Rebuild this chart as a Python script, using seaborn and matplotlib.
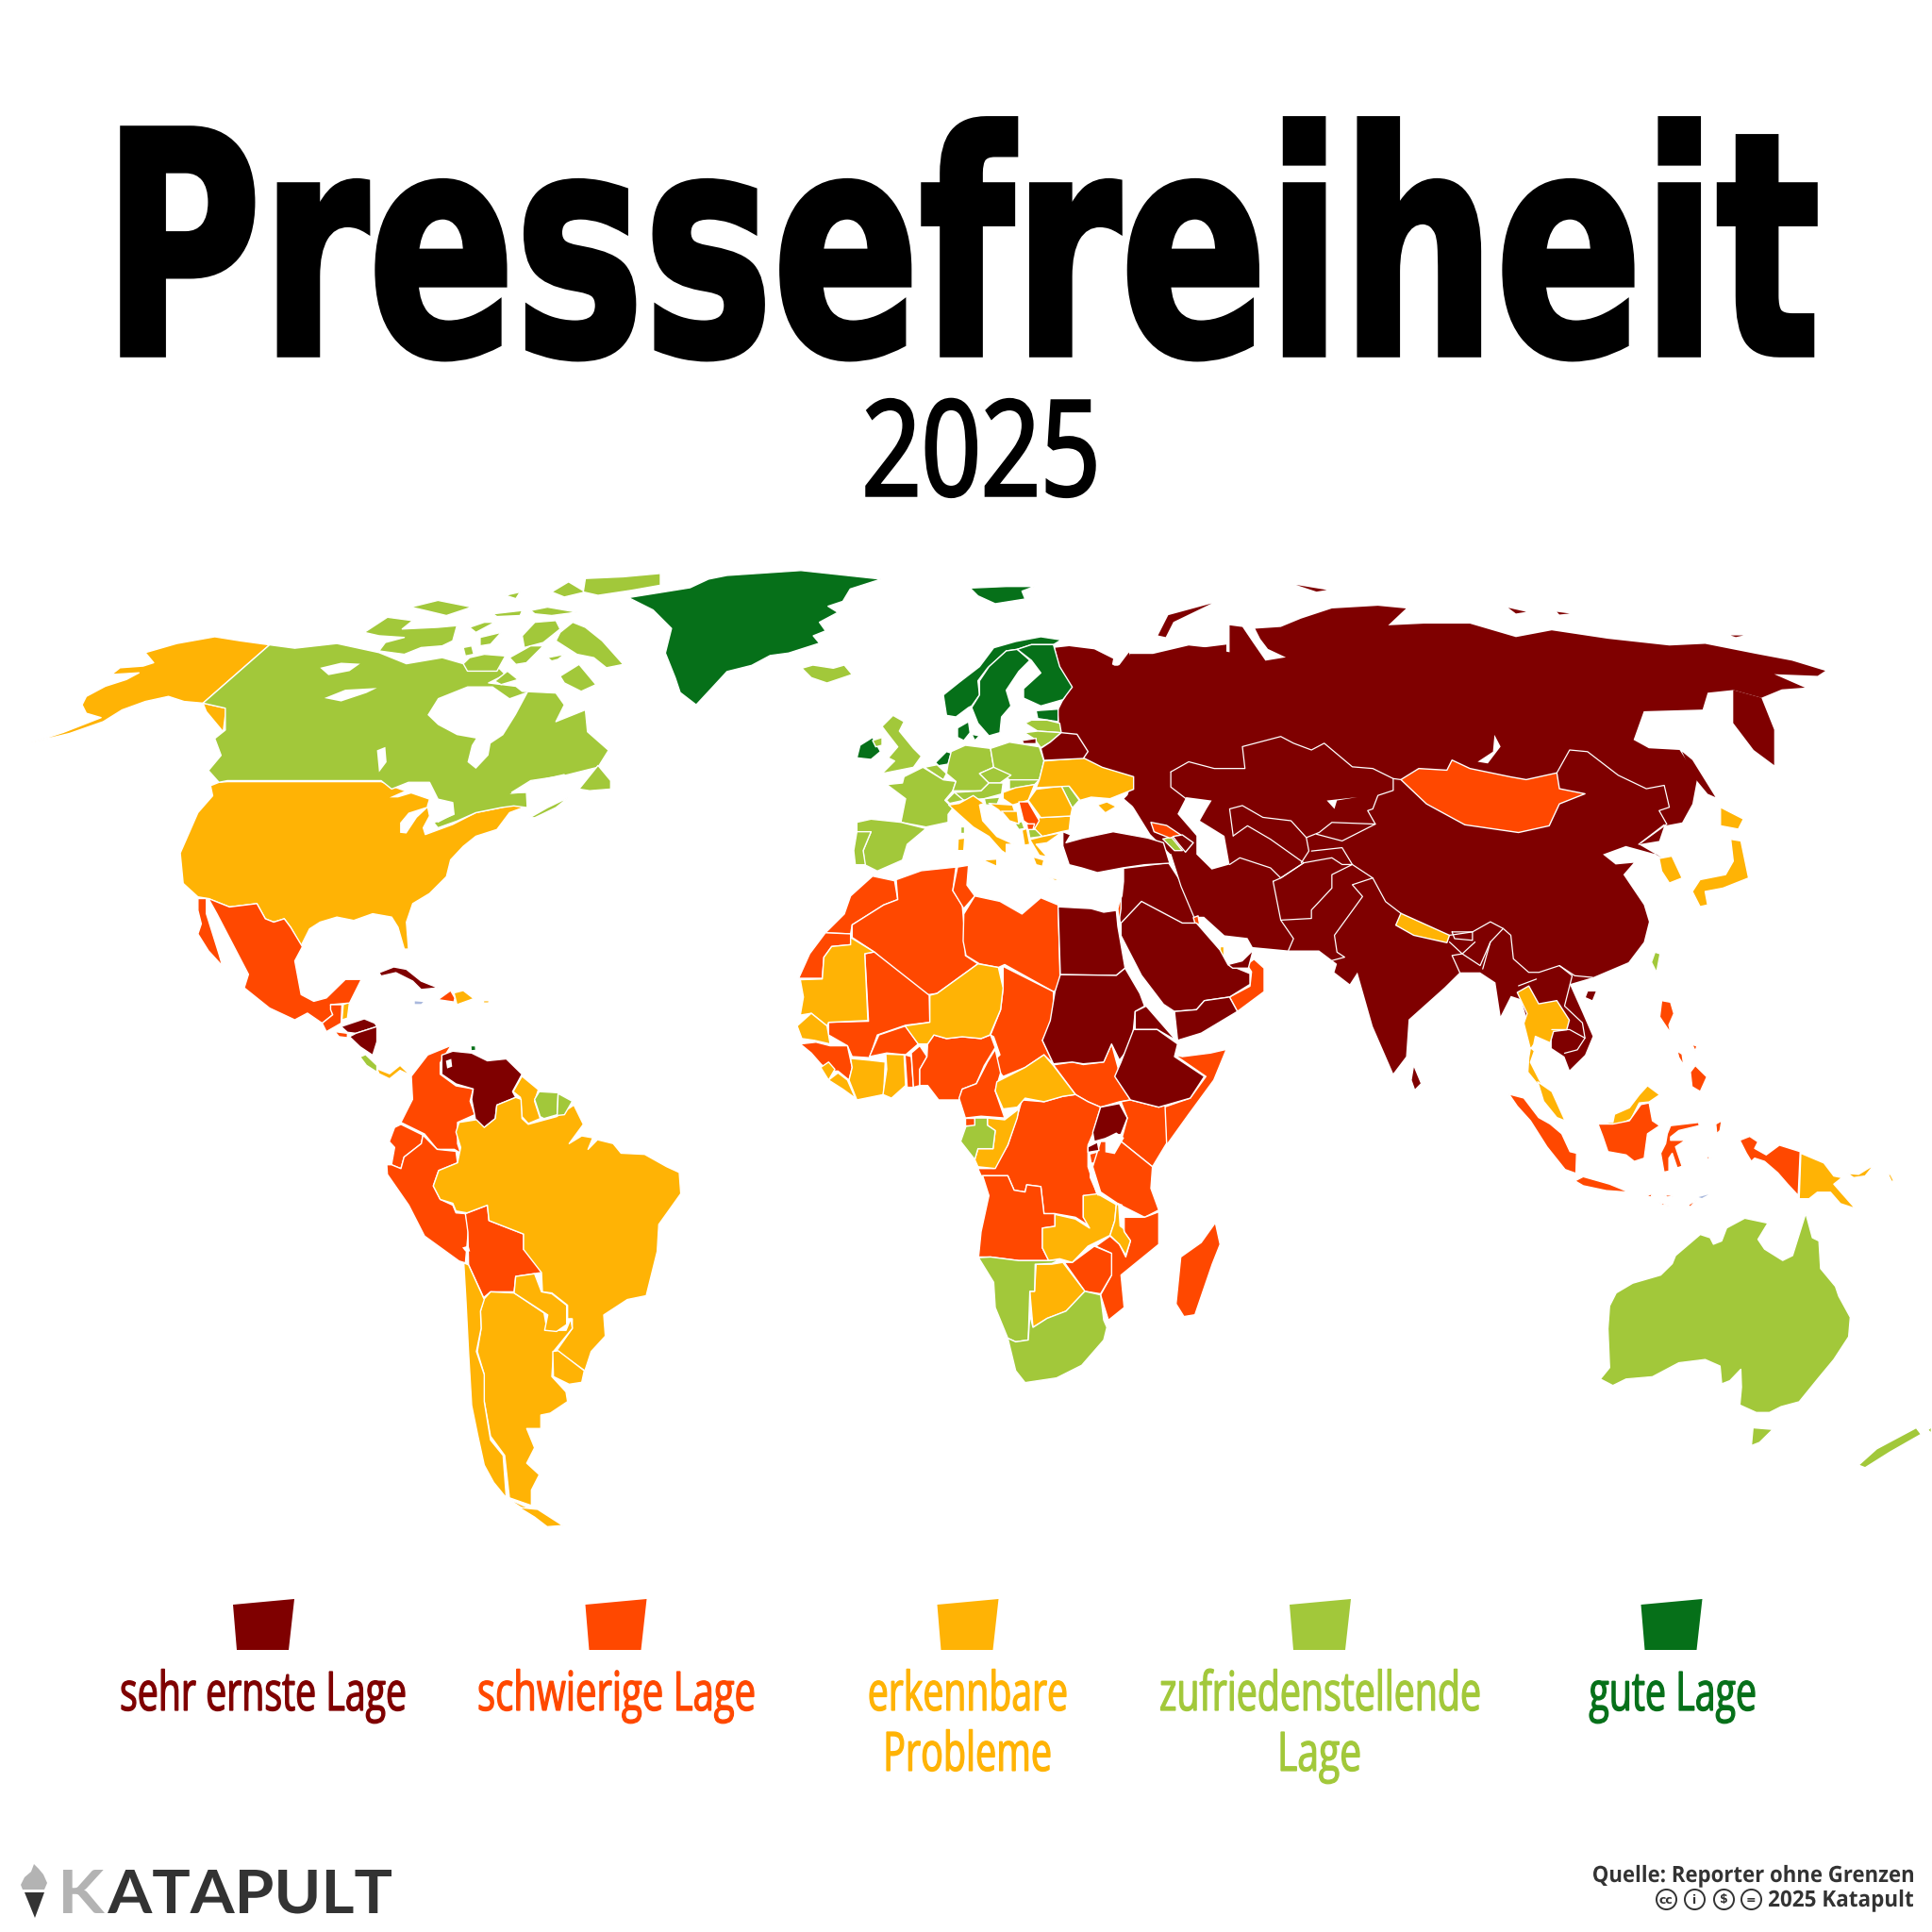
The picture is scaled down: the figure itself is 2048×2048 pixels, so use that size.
import numpy as np
import pandas as pd
import matplotlib
matplotlib.use("Agg")
import matplotlib.pyplot as plt
import matplotlib.patheffects as pe
from matplotlib.font_manager import FontProperties
from matplotlib.path import Path
from matplotlib.textpath import TextPath
from matplotlib.transforms import Affine2D
import seaborn as sns

LEVELS = ["sehr ernste Lage", "schwierige Lage", "erkennbare\nProbleme", "zufriedenstellende\nLage", "gute Lage"]
LEVEL_COLORS = ["#7f0000", "#ff4800", "#ffb305", "#a2c83a", "#067019"]
NO_DATA = "#a9b8dd"
VERY_BAD, BAD, PROBLEMS, OK, GOOD = 0, 1, 2, 3, 4

# outlines, each group in its own crop of the picture
# crop = (left, top, x scale, y scale)
CROP_ALL = (0, 0, 0.7656, 0.7656)
CROP_NA = (0, 590, 2.24, 2.8)
CROP_SA = (350, 1000, 3.0, 2.45)
CROP_EU = (840, 600, 3.0, 3.0)
CROP_AF = (820, 900, 3.0, 2.613)
CROP_AS = (1130, 620, 1.845, 2.8)
CROP_OC = (1500, 1040, 2.861, 2.904)

GREENLAND = [(510,485),(535,481),(560,477),(575,470),(590,467),(650,463),(715,470),(690,478),(684,488),(672,492),(680,497),(665,505),(670,512),(660,516),(665,522),(640,530),(625,532),(610,540),(590,545),(578,558),(565,572),(552,562),(548,550),(540,530),(545,510),(530,495)]

ALASKA = [(640,262),(482,435),(437,430),(400,415),(345,430),(290,455),(245,490),(165,525),(75,552),(150,522),(240,478),(205,465),(195,440),(205,415),(250,385),(300,365),(330,345),(265,350),(285,330),(340,325),(365,315),(345,285),(420,258),(510,238),(570,250)]
ALASKA_PAN = [(482,435),(537,450),(530,520),(510,490),(490,460)]
CANADA = [(640,262),(700,272),(800,258),(900,285),(965,318),(1050,300),(1100,318),(1180,325),(1200,350),(1160,375),(1225,385),(1240,400),(1320,405),(1340,440),(1320,490),(1390,455),(1395,520),(1445,575),(1420,625),(1340,650),(1260,665),(1215,700),(1250,700),(1252,745),(1220,740),(1190,745),(1130,760),(1085,785),(1040,805),(1030,790),(1078,765),(1075,730),(1040,720),(1020,670),(970,670),(930,690),(905,665),(540,665),(520,670),(495,635),(525,590),(510,540),(535,515),(535,450),(482,435)]
NEWFOUNDLAND = [(1375,690),(1420,620),(1450,665),(1450,690),(1400,695)]
NOVA_SCOTIA = [(1258,775),(1300,745),(1350,715),(1320,745),(1270,775)]
ARCTIC_1 = [(865,225),(920,180),(980,190),(955,215),(1040,210),(1085,205),(1075,250),(1050,265),(1000,270),(960,290),(900,280),(915,255),(960,240),(900,235)]
ARCTIC_2 = [(1115,210),(1150,195),(1175,195),(1130,225)]
ARCTIC_3 = [(1100,270),(1120,265),(1125,290),(1105,295)]
ARCTIC_4 = [(1140,240),(1190,225),(1165,260),(1140,265)]
BAFFIN_1 = [(1330,225),(1360,195),(1390,210),(1430,250),(1480,320),(1440,330),(1410,300),(1370,290),(1320,250)]
BAFFIN_2 = [(1240,235),(1270,195),(1320,190),(1330,215),(1290,255),(1245,270)]
BAFFIN_3 = [(1210,300),(1260,265),(1290,265),(1250,315),(1225,320)]
BAFFIN_4 = [(1115,300),(1150,290),(1200,295),(1180,340),(1110,340),(1100,318)]
BAFFIN_5 = [(1300,300),(1340,290),(1325,305),(1310,310)]
ARCTIC_5 = [(1175,370),(1205,340),(1230,365),(1190,380)]
ARCTIC_6 = [(1330,355),(1375,320),(1415,380),(1380,400),(1340,375)]
ARCTIC_7 = [(975,150),(1040,130),(1120,150),(1060,175),(1010,160)]
ARCTIC_8 = [(1260,160),(1300,150),(1370,165),(1310,175),(1270,170)]
ARCTIC_9 = [(1310,105),(1350,75),(1390,105),(1340,120)]
ELLESMERE = [(1390,65),(1480,60),(1568,50),(1568,85),(1500,100),(1420,115),(1385,105)]
ARCTIC_10 = [(1200,115),(1235,105),(1225,125)]
ARCTIC_11 = [(1170,170),(1240,160),(1235,175),(1180,178)]
USA = [(540,668),(905,668),(950,690),(1020,720),(1015,740),(1020,770),(1005,805),(1010,825),(1075,795),(1130,760),(1190,745),(1220,735),(1248,698),(1252,740),(1210,760),(1180,810),(1130,830),(1100,860),(1085,880),(1070,900),(1060,950),(1020,1000),(980,1030),(965,1085),(970,1165),(960,1165),(945,1100),(930,1070),(885,1060),(840,1080),(800,1070),(760,1085),(735,1105),(715,1155),(690,1100),(675,1075),(650,1085),(630,1075),(610,1030),(545,1040),(495,1015),(470,1010),(435,970),(428,880),(470,760),(505,710),(500,680),(520,670)]
MEXICO = [(495,1015),(545,1040),(610,1030),(630,1075),(650,1085),(675,1075),(690,1100),(718,1158),(700,1200),(715,1300),(745,1320),(775,1310),(820,1255),(858,1255),(830,1325),(785,1330),(790,1360),(765,1385),(730,1355),(700,1375),(640,1340),(580,1280),(590,1240),(515,1060)]
BAJA = [(470,1015),(490,1015),(490,1060),(520,1180),(528,1215),(495,1170),(470,1120),(478,1090),(470,1050)]
BELIZE = [(815,1330),(830,1322),(825,1370),(812,1375)]
GUATEMALA = [(785,1330),(812,1330),(810,1385),(775,1410),(765,1385),(790,1360),(785,1345)]
EL_SALVADOR = [(795,1410),(825,1415),(825,1428),(805,1425)]
HONDURAS = [(810,1395),(865,1372),(890,1385),(895,1395),(845,1415),(825,1412)]
NICARAGUA = [(845,1415),(895,1395),(895,1440),(885,1480),(855,1455),(830,1425)]
COSTA_RICA = [(855,1485),(868,1478),(895,1510),(895,1530),(870,1510)]
PANAMA = [(895,1520),(925,1535),(950,1510),(975,1540),(950,1525),(925,1550),(900,1535)]
CUBA = [(900,1235),(935,1218),(965,1225),(1000,1260),(1040,1280),(1000,1285),(980,1260),(940,1235),(905,1245)]
HAITI = [(1040,1315),(1070,1288),(1080,1310),(1078,1322)]
DOMINICAN = [(1078,1295),(1100,1288),(1125,1312),(1085,1330)]
PUERTO_RICO = [(1148,1318),(1162,1318),(1160,1325),(1148,1325)]
JAMAICA = [(985,1320),(1005,1322),(1000,1328),(985,1328)]
HUDSON = [(1015,470),(1040,420),(1110,385),(1170,385),(1210,420),(1255,400),(1225,470),(1195,530),(1165,555),(1160,590),(1130,630),(1110,610),(1120,560),(1130,540),(1085,530),(1040,500)]
GREAT_BEAR = [(760,330),(810,315),(855,318),(830,340),(780,352)]
GREAT_SLAVE = [(770,420),(820,395),(895,390),(870,405),(810,430)]
WINNIPEG = [(895,575),(915,565),(918,610),(900,640)]
SUPERIOR = [(925,715),(970,690),(1020,670),(1030,720),(985,700),(945,715)]
MICHIGAN = [(950,820),(950,790),(970,760),(1020,740),(990,775),(965,822)]
HURON = [(1030,730),(1075,730),(1078,765),(1040,790),(1025,775)]
ST_LAWRENCE = [(1210,705),(1270,665),(1340,645),(1350,660),(1300,690),(1255,700)]

COLOMBIA = [(385,265),(350,310),(350,340),(400,370),(455,378),(445,410),(460,445),(405,465),(405,520),(415,545),(395,535),(340,535),(300,495),(225,465),(262,405),(258,345),(310,290)]
VENEZUELA = [(355,290),(390,280),(450,285),(500,305),(560,300),(610,340),(580,385),(590,400),(530,420),(525,455),(490,478),(465,470),(450,405),(455,378),(400,365),(355,340)]
GUYANA = [(610,345),(662,380),(650,410),(668,455),(630,468),(610,450),(605,400),(582,385)]
SURINAME = [(650,405),(665,385),(725,388),(722,445),(680,455),(668,450)]
FR_GUIANA = [(725,390),(770,410),(745,445),(722,447)]
BRAZIL = [(530,420),(590,400),(607,405),(610,455),(630,470),(720,450),(775,420),(805,470),(760,520),(800,500),(835,505),(820,535),(850,510),(900,520),(925,545),(1000,548),(1070,580),(1110,595),(1115,650),(1045,730),(1040,800),(1005,915),(945,925),(870,965),(875,1020),(830,1060),(810,1110),(720,1058),(770,1000),(770,975),(755,975),(755,940),(705,908),(675,905),(672,855),(615,795),(615,755),(505,720),(500,680),(435,700),(400,695),(390,675),(350,665),(328,630),(345,590),(405,570),(415,530),(400,490),(410,465),(465,458),(490,478),(525,455)]
ECUADOR = [(225,470),(295,498),(290,520),(235,555),(225,585),(195,575),(205,530),(188,515),(205,478)]
PERU = [(295,498),(340,535),(400,540),(405,570),(345,590),(328,630),(350,665),(390,680),(400,700),(430,702),(440,740),(430,830),(410,825),(300,760),(250,680),(182,600),(180,575),(195,575),(225,585),(235,555),(290,520)]
BOLIVIA = [(430,702),(500,680),(505,720),(615,755),(615,795),(660,800),(672,855),(590,865),(585,905),(550,905),(510,905),(488,920),(440,835),(438,750)]
CHILE = [(425,830),(440,835),(490,925),(478,955),(480,1000),(465,1060),(490,1120),(490,1190),(510,1290),(550,1330),(560,1440),(640,1470),(620,1472),(560,1440),(520,1400),(490,1355),(470,1280),(450,1200),(440,1060),(432,930)]
ARGENTINA = [(488,925),(510,905),(585,908),(680,960),(690,1005),(750,1005),(765,975),(770,1000),(710,1060),(705,1125),(750,1165),(755,1190),(700,1220),(670,1225),(670,1260),(625,1260),(650,1310),(625,1350),(665,1380),(640,1420),(640,1460),(570,1440),(555,1330),(510,1280),(490,1190),(490,1120),(468,1060),(480,1000),(478,955)]
TIERRA = [(600,1465),(660,1470),(740,1512),(690,1515),(650,1490)]
PARAGUAY = [(590,865),(650,858),(672,905),(705,910),(752,940),(752,990),(720,1008),(682,1005),(692,965),(585,908)]
URUGUAY = [(708,1060),(725,1058),(808,1110),(800,1140),(760,1145),(710,1125)]
TRINIDAD = [(447,266),(462,266),(463,278),(448,279)]
TITICACA = [(420,790),(440,785),(445,800),(430,800)]
MARACAIBO = [(368,305),(385,300),(388,320),(372,325)]

MOROCCO = [(315,75),(385,88),(395,140),(350,155),(250,210),(245,235),(165,232),(225,180),(245,130)]
W_SAHARA = [(165,232),(245,235),(245,265),(185,270),(160,300),(155,358),(80,358),(115,290)]
ALGERIA = [(390,85),(470,60),(580,50),(570,115),(600,155),(610,255),(610,295),(650,318),(520,400),(480,405),(320,285),(250,245),(250,210),(350,155),(395,140)]
TUNISIA = [(585,50),(620,45),(615,100),(640,130),(605,165),(570,115)]
LIBYA = [(605,180),(640,130),(720,145),(790,180),(850,135),(905,155),(912,385),(890,395),(735,320),(715,328),(655,318),(612,295),(603,255)]
EGYPT = [(905,160),(1010,165),(1050,175),(1090,170),(1095,215),(1118,330),(1090,350),(912,348)]
MAURITANIA = [(245,245),(320,285),(290,290),(300,475),(175,480),(170,490),(120,455),(85,460),(95,410),(85,362),(155,360),(160,300),(185,270),(245,265)]
MALI = [(290,290),(320,285),(495,405),(497,480),(420,488),(330,515),(305,578),(250,575),(235,545),(175,515),(175,480),(302,477)]
SENEGAL = [(75,490),(120,455),(170,490),(180,540),(130,530),(90,525)]
GUINEA = [(85,540),(135,535),(180,545),(235,545),(250,605),(240,640),(205,615),(175,615),(150,595),(120,565)]
SIERRA_LEONE = [(150,605),(175,590),(195,610),(175,640)]
LIBERIA = [(175,640),(205,620),(235,640),(260,690),(220,665)]
IVORY_COAST = [(245,580),(305,585),(355,590),(350,680),(265,695),(240,640),(250,605)]
BURKINA = [(305,575),(335,515),(420,490),(460,540),(420,570),(360,565)]
GHANA = [(357,568),(415,570),(420,655),(375,690),(348,680),(360,610)]
TOGO = [(418,570),(438,575),(445,660),(425,660)]
BENIN = [(438,565),(465,545),(488,575),(465,610),(465,655),(445,660)]
NIGER = [(418,490),(497,480),(497,405),(520,400),(650,318),(715,328),(730,385),(722,445),(688,515),(660,525),(600,520),(550,525),(510,515),(490,540),(460,540)]
NIGERIA = [(490,540),(510,515),(550,525),(600,520),(660,525),(690,515),(705,550),(670,600),(645,650),(600,665),(590,695),(525,695),(490,655),(465,655),(465,610),(488,575)]
CHAD = [(730,325),(890,395),(890,470),(855,530),(890,595),(860,570),(800,605),(730,630),(695,590),(720,570),(700,520),(690,515),(722,445),(730,385)]
CAMEROON = [(705,555),(722,620),(705,670),(735,745),(660,740),(610,745),(590,690),(600,665),(645,650),(680,590)]
CAR = [(710,645),(800,605),(860,570),(890,600),(960,680),(920,685),(860,700),(800,690),(775,715),(730,720),(705,670)]
SUDAN = [(912,348),(1090,350),(1118,330),(1165,400),(1180,435),(1150,450),(1140,540),(1100,585),(1075,540),(1050,590),(985,595),(950,590),(890,595),(855,530),(880,475),(895,395)]
SOUTH_SUDAN = [(890,598),(950,590),(985,597),(1050,590),(1075,540),(1100,620),(1090,635),(1135,695),(1100,700),(1040,715),(1000,700),(960,680)]
ERITREA = [(1150,450),(1185,435),(1280,530),(1220,500),(1150,500)]
ETHIOPIA = [(1145,500),(1220,500),(1285,540),(1275,575),(1370,630),(1325,690),(1225,715),(1135,695),(1085,630),(1105,590)]
SOMALIA = [(1275,570),(1300,575),(1390,565),(1440,555),(1400,640),(1320,735),(1250,820),(1242,715),(1325,690),(1375,630)]
KENYA = [(1135,695),(1225,715),(1245,710),(1250,815),(1205,880),(1105,810),(1125,745),(1105,700)]
UGANDA = [(1040,715),(1100,705),(1125,745),(1105,790),(1020,810),(1015,785)]
RWANDA = [(1000,825),(1030,812),(1035,835),(1000,840)]
BURUNDI = [(1005,845),(1035,838),(1025,870),(1010,870)]
TANZANIA = [(1040,810),(1105,810),(1205,880),(1200,940),(1225,1000),(1180,1020),(1100,985),(1040,950),(1015,880)]
DR_CONGO = [(790,695),(860,700),(920,685),(960,680),(1000,700),(1040,715),(1015,790),(1000,820),(1000,880),(1030,960),(985,960),(985,1020),(1015,1050),(960,1020),(895,1010),(860,1010),(850,935),(805,930),(800,950),(765,945),(745,905),(660,905),(650,885),(700,885),(745,820),(775,740)]
ANGOLA = [(665,905),(745,905),(765,945),(800,950),(805,930),(850,935),(860,1010),(895,1010),(895,1045),(855,1050),(855,1105),(875,1140),(780,1140),(690,1130),(652,1130),(660,1060),(685,960)]
EQ_GUINEA = [(610,745),(640,745),(640,765),(608,765)]
GABON = [(640,745),(680,745),(680,765),(705,780),(698,830),(650,830),(640,860),(595,810),(612,768),(640,765)]
CONGO = [(680,745),(735,750),(780,720),(775,745),(745,820),(705,885),(650,880),(640,860),(650,830),(698,830),(705,780),(680,765)]
ZAMBIA = [(855,1050),(895,1045),(895,1012),(960,1025),(1005,1050),(985,1020),(985,960),(1030,955),(1090,985),(1085,1030),(1070,1070),(1000,1100),(950,1145),(910,1135),(875,1140),(855,1105)]
MALAWI = [(1090,985),(1100,985),(1115,1060),(1135,1085),(1120,1125),(1100,1095),(1070,1070),(1085,1030)]
MOZAMBIQUE = [(1115,1020),(1180,1020),(1225,1005),(1225,1095),(1105,1180),(1115,1270),(1065,1305),(1040,1235),(1075,1180),(1075,1120),(1025,1100),(1070,1072),(1100,1095),(1120,1130),(1135,1085),(1115,1060)]
ZIMBABWE = [(925,1145),(950,1145),(1020,1100),(1075,1120),(1075,1180),(1040,1232),(990,1225)]
BOTSWANA = [(835,1150),(885,1150),(920,1145),(990,1225),(930,1280),(870,1300),(825,1325),(815,1225),(830,1225)]
NAMIBIA = [(652,1132),(690,1130),(780,1140),(875,1140),(910,1138),(885,1148),(832,1150),(830,1225),(815,1225),(810,1360),(770,1365),(745,1355),(705,1270),(700,1200)]
SOUTH_AFRICA = [(745,1355),(770,1365),(810,1360),(815,1290),(825,1325),(870,1300),(930,1280),(990,1225),(1040,1235),(1050,1305),(1060,1325),(1050,1360),(980,1430),(900,1465),(800,1478),(770,1445)]
LESOTHO = [(948,1380),(975,1360),(992,1378),(965,1400)]
ESWATINI = [(1025,1318),(1042,1305),(1050,1320),(1035,1332)]
MADAGASCAR = [(1405,1035),(1420,1095),(1395,1150),(1340,1290),(1305,1295),(1280,1260),(1295,1130),(1360,1090)]
VICTORIA = [(1055,800),(1090,785),(1115,800),(1085,845),(1055,840)]
TANGANYIKA = [(1005,870),(1015,900),(1045,960),(1030,960),(1005,910)]
LAKE_MALAWI = [(1095,980),(1110,985),(1115,1055),(1100,1045)]
MIDEAST = [(1115,55),(1255,40),(1300,100),(1350,170),(1345,205),(1300,205),(1170,145),(1105,205),(1095,160),(1110,130),(1115,90)]
SAUDI = [(1105,205),(1170,145),(1300,205),(1345,205),(1420,280),(1445,320),(1515,345),(1515,375),(1450,410),(1370,420),(1345,445),(1275,450),(1240,430),(1170,350),(1105,240)]
YEMEN = [(1275,450),(1345,445),(1370,420),(1450,410),(1475,450),(1360,510),(1285,530)]
OMAN = [(1450,410),(1515,380),(1520,340),(1505,320),(1528,305),(1560,330),(1560,395),(1475,450)]
UAE = [(1445,320),(1490,310),(1525,280),(1510,330),(1460,330)]
KUWAIT = [(1335,190),(1350,185),(1355,210),(1340,205)]
ISRAEL = [(1095,165),(1105,130),(1105,165),(1098,205)]
QATAR = [(1418,270),(1430,270),(1430,295),(1420,295)]

EURASIA = [(0,185),(50,205),(95,240),(120,240),(125,205),(170,205),(240,180),(270,185),(320,200),(320,120),(345,125),(365,170),(390,225),(430,215),(395,190),(380,160),(370,130),(420,125),(460,100),(520,70),(610,62),(665,70),(630,120),(700,115),(790,115),(880,155),(950,135),(1060,160),(1180,180),(1250,175),(1350,205),(1420,225),(1485,255),(1470,270),(1385,265),(1445,305),(1400,310),(1360,335),(1305,312),(1255,320),(1245,370),(1130,375),(1110,460),(1140,485),(1200,490),(1235,570),(1225,650),(1205,705),(1170,715),(1160,760),(1120,770),(1165,810),(1155,800),(1095,775),(1050,800),(1075,830),(1110,825),(1090,860),(1130,950),(1140,1000),(1130,1060),(1100,1120),(1030,1165),(985,1185),(1010,1270),(1030,1340),(1015,1395),(985,1440),(975,1400),(950,1375),(950,1330),(910,1330),(890,1230),(870,1220),(850,1280),(840,1180),(810,1150),(770,1150),(740,1195),(670,1290),(665,1400),(640,1450),(600,1310),(570,1150),(555,1185),(525,1150),(530,1125),(495,1085),(435,1085),(365,1075),(355,1048),(310,1040),(270,985),(250,985),(225,895),(205,800),(165,740),(120,630),(130,570),(40,490),(0,440)]
RUSSIA_WEST = [(835,260),(880,255),(960,265),(1020,295),(1015,320),(960,320),(890,300),(940,355),(975,350),(1040,315),(1070,275),(1085,320),(1120,300),(1200,270),(1300,260),(1380,250),(1380,700),(1230,760),(1140,815),(1090,770),(1055,740),(1085,710),(1085,670),(985,640),(925,610),(940,590),(900,535),(850,530),(845,460),(860,430),(890,385),(850,320)]
KAMCHATKA = [(1305,312),(1360,335),(1385,430),(1385,535),(1345,490),(1305,410)]
SAKHALIN = [(1205,495),(1225,520),(1270,630),(1255,620),(1225,565)]
NOVAYA = [(180,150),(200,90),(285,55),(210,110),(195,155)]
SEVERNAYA = [(450,0),(510,15),(490,20)]
NEW_SIBERIA = [(865,68),(900,80),(880,85)]
NEW_SIBERIA_2 = [(960,80),(985,85),(965,88)]
WRANGEL = [(1300,150),(1325,150),(1310,155)]
TURKEY = [(860,845),(885,855),(870,880),(925,865),(1020,845),(1130,865),(1180,880),(1200,945),(1120,950),(1050,960),(970,975),(920,960),(880,950),(860,890)]
CASPIAN = [(218,680),(235,630),(285,640),(275,665),(262,700),(310,745),(320,830),(285,845),(255,800),(255,745)]
BAIKAL = [(838,445),(850,480),(825,530),(805,525),(835,495)]
BALKHASH = [(510,640),(570,630),(530,640),(525,665)]
MONGOLIA = [(655,578),(690,545),(745,550),(755,520),(790,545),(870,570),(900,578),(960,558),(965,605),(1015,620),(965,650),(945,715),(885,735),(780,712),(705,650)]
S_KOREA = [(1160,812),(1185,805),(1205,870),(1180,885),(1165,850)]
HONSHU = [(1300,755),(1320,760),(1335,870),(1285,900),(1250,910),(1255,950),(1240,955),(1225,910),(1240,875),(1290,860),(1305,820)]
HOKKAIDO = [(1280,660),(1325,695),(1315,725),(1280,715)]
TAIWAN = [(1152,1090),(1162,1095),(1155,1150),(1145,1120)]
SRI_LANKA = [(680,1425),(695,1480),(682,1500),(675,1470)]
HAINAN = [(1020,1205),(1038,1205),(1030,1235),(1015,1225)]
NEPAL = [(655,975),(750,1040),(745,1062),(680,1040),(645,1010)]

# white border lines over the dark block of Asia
LINE_KAZ_N = [(205,555),(240,525),(290,545),(350,545),(345,480),(420,450),(445,470),(480,490),(505,470),(560,540),(600,545),(640,575),(655,578)]
LINE_KAZ_S = [(640,575),(640,610),(610,625),(600,665),(590,670),(605,710),(520,705),(495,735),(470,750),(440,700),(385,690),(345,655),(320,665),(327,745)]
LINE_KAZ_W = [(205,555),(205,600),(235,635)]
LINE_TURKMEN = [(327,745),(355,715),(400,755),(465,825),(420,870),(400,840),(340,810),(320,830)]
LINE_UZBEK = [(470,750),(475,790),(460,825)]
LINE_KYRGYZ = [(490,740),(540,760),(605,710)]
LINE_TAJIK = [(480,790),(540,780),(560,830)]
LINE_AFGHAN = [(405,880),(420,870),(465,825),(520,810),(540,830),(560,830),(520,860),(520,900),(480,965),(480,990),(420,995),(405,880)]
LINE_PAK_INDIA = [(560,830),(600,870),(560,890),(580,925),(525,1040),(530,1090),(545,1105),(520,1115)]
LINE_PAK_IRAN = [(420,995),(445,1050),(435,1085)]
LINE_CHINA_INDIA = [(600,870),(625,940),(655,975)]
LINE_BHUTAN = [(755,1030),(795,1030),(795,1055),(760,1050),(755,1030)]
LINE_CHINA_SOUTH = [(750,1040),(795,1030),(830,1000),(855,1020),(870,1040),(875,1110),(905,1150),(925,1150),(965,1130),(995,1160),(1030,1165)]
LINE_BANGLA_W = [(750,1060),(775,1095),(755,1100),(770,1150)]
LINE_BANGLA_E = [(800,1060),(775,1095),(810,1130),(830,1060)]
LINE_MYANMAR = [(855,1020),(830,1060),(815,1140)]
LINE_LAOS = [(920,1170),(885,1190)]
LINE_VIETNAM = [(965,1130),(990,1160),(975,1250),(1010,1300),(1015,1345)]
LINE_CAMBODIA = [(950,1320),(985,1320),(1015,1345),(1000,1380),(975,1390)]
LINE_AMUR = [(960,558),(985,490),(1020,495),(1080,565),(1135,605),(1170,595),(1180,660),(1160,670),(1175,710),(1125,765)]
LINE_KOREA = [(1120,770),(1170,712)]
LINE_IRAN_TURKEY = [(205,800),(225,895),(250,985)]

THAILAND = [(310,35),(345,15),(375,70),(430,60),(468,120),(460,150),(420,155),(410,190),(365,170),(360,195),(350,210),(330,130),(340,100)]
THAI_SOUTH = [(350,205),(362,215),(350,250),(385,320),(370,315),(342,280),(345,235)]
MALAY = [(372,310),(415,340),(455,430),(430,420),(390,370)]
SUMATRA = [(285,348),(330,360),(375,420),(410,440),(445,470),(470,525),(490,530),(488,592),(455,580),(400,510),(350,430),(310,385)]
JAVA = [(485,615),(510,602),(590,625),(650,650),(580,645),(510,630)]
SUNDA_1 = [(700,660),(720,655),(715,665)]
SUNDA_2 = [(755,658),(795,660),(765,665)]
SUNDA_3 = [(740,680),(770,692),(750,690)]
SUNDA_4 = [(828,690),(855,672),(835,695)]
TIMOR_LESTE = [(860,665),(890,657),(870,668)]
KALIMANTAN = [(555,440),(600,440),(650,430),(685,380),(710,375),(720,430),(742,445),(705,470),(695,545),(665,555),(640,535),(585,525),(570,480)]
SARAWAK = [(565,435),(600,435),(605,410),(650,390),(680,350),(705,322),(742,350),(710,372),(680,375),(655,425),(610,445)]
SULAWESI = [(765,470),(775,445),(860,435),(862,445),(800,460),(775,480),(775,490),(820,490),(790,510),(810,570),(795,575),(780,530),(770,545),(770,585),(755,588),(745,530),(760,500)]
LUZON = [(748,60),(775,65),(785,100),(770,135),(775,160),(755,130),(742,110)]
MINDANAO = [(850,260),(885,295),(865,340),(840,325),(835,280)]
VISAYAS_1 = [(795,215),(810,225),(815,260),(800,235)]
VISAYAS_2 = [(840,195),(855,200),(850,215)]
PALAWAN = [(710,275),(745,235),(730,255)]
ZAMBOANGA = [(800,315),(830,285),(815,300)]
PAPUA = [(985,490),(1015,478),(1040,495),(1030,515),(1065,535),(1105,505),(1168,525),(1162,660),(1130,625),(1100,590),(1060,555),(1030,545),(1020,555),(1005,530)]
PNG = [(1170,530),(1240,560),(1270,600),(1295,605),(1270,625),(1335,700),(1290,685),(1260,650),(1220,650),(1195,670),(1165,670)]
NEW_BRITAIN = [(1312,592),(1345,595),(1385,570),(1395,562),(1365,600),(1330,605)]
SOLOMON = [(1435,595),(1442,595),(1452,615),(1445,617)]
SERAM = [(925,535),(970,545),(945,540)]
BURU = [(885,540),(900,542),(885,548)]
HALMAHERA = [(912,440),(930,430),(925,460),(915,470)]
AUSTRALIA = [(1185,715),(1205,790),(1225,800),(1230,885),(1275,940),(1285,970),(1320,1035),(1315,1095),(1270,1165),(1225,1220),(1165,1295),(1110,1310),(1075,1328),(1035,1328),(985,1305),(990,1250),(988,1195),(955,1230),(930,1240),(925,1185),(880,1165),(800,1175),(720,1218),(640,1225),(600,1245),(562,1225),(590,1190),(585,1070),(590,1000),(610,960),(660,930),(745,905),(780,870),(790,845),(865,780),(895,790),(905,810),(930,800),(945,760),(1000,730),(1070,745),(1040,795),(1060,825),(1115,860),(1145,845),(1165,780)]
TASMANIA = [(1025,1375),(1085,1380),(1045,1420),(1020,1430)]
NZ_SOUTH = [(1345,1490),(1400,1440),(1520,1375),(1535,1395),(1440,1450),(1365,1498)]
NZ_NORTH = [(1555,1382),(1566,1372),(1566,1392)]

NORWAY = [(480,410),(530,370),(595,320),(640,260),(710,240),(790,225),(855,235),(830,250),(760,250),(715,265),(680,270),(620,325),(590,365),(595,410),(570,445),(560,450),(520,480),(490,475)]
SWEDEN = [(595,365),(625,320),(680,270),(715,265),(755,300),(720,335),(680,395),(695,445),(665,480),(660,530),(625,540),(590,500),(570,450),(595,410)]
FINLAND = [(715,265),(760,250),(830,250),(850,320),(890,385),(860,425),(790,445),(735,420),(735,390),(790,340),(760,300)]
ESTONIA = [(775,460),(845,455),(845,495),(780,485)]
LATVIA = [(740,500),(760,490),(810,490),(850,500),(855,530),(780,525)]
LITHUANIA = [(738,530),(780,525),(855,530),(820,560),(790,578),(770,550)]
KALININGRAD = [(730,555),(775,548),(775,565),(735,565)]
BELARUS = [(790,580),(820,560),(855,530),(905,535),(940,590),(925,612),(800,618)]
JUTLAND = [(525,515),(560,495),(565,530),(545,555),(525,545)]
ZEALAND = [(570,535),(595,540),(580,555)]
ICELAND = [(30,325),(65,315),(130,325),(165,315),(190,345),(110,372),(60,355)]
SVALBARD = [(565,70),(680,65),(770,65),(730,80),(740,105),(645,120),(590,95)]
IRELAND = [(205,610),(215,570),(255,545),(280,590),(250,615)]
N_IRELAND = [(255,555),(285,545),(285,570),(265,575)]
BRITAIN = [(320,475),(355,495),(340,525),(385,580),(410,605),(385,640),(285,660),(325,620),(305,610),(335,575),(300,530),(285,510)]
NETHERLANDS = [(455,625),(490,590),(505,595),(495,630),(465,635)]
BELGIUM = [(420,640),(460,632),(490,660),(480,680)]
FRANCE = [(300,695),(350,690),(355,670),(415,640),(480,680),(520,685),(510,715),(485,745),(510,770),(495,790),(495,815),(425,830),(345,815),(360,740)]
SPAIN = [(205,815),(250,805),(345,815),(425,835),(365,885),(350,935),(270,970),(230,950),(225,905),(250,845),(205,845)]
PORTUGAL = [(205,845),(250,845),(225,905),(232,950),(200,950),(195,905)]
GERMANY = [(505,590),(550,570),(630,580),(640,640),(595,660),(625,690),(600,715),(510,715),(520,685),(490,660),(495,630)]
POLAND = [(630,580),(690,560),(785,575),(800,620),(785,680),(690,680),(640,640)]
CZECHIA = [(595,660),(640,640),(695,665),(660,690),(625,690)]
SLOVAKIA = [(690,680),(785,680),(770,695),(690,710)]
AUSTRIA = [(515,720),(600,715),(625,690),(670,690),(665,725),(610,740),(540,745)]
SWITZERLAND = [(490,745),(515,720),(545,745),(500,755)]
HUNGARY = [(670,720),(710,705),(770,695),(750,745),(700,760),(670,740)]
SLOVENIA = [(610,740),(660,735),(650,760),(615,760)]
CROATIA = [(625,755),(700,760),(710,790),(670,790),(655,775)]
BOSNIA = [(665,780),(715,780),(720,820),(690,810)]
SERBIA = [(720,750),(750,750),(785,810),(770,835),(735,810)]
KOSOVO = [(745,820),(770,820),(765,838),(748,838)]
MONTENEGRO = [(708,820),(730,812),(738,835),(720,838)]
ALBANIA = [(730,840),(745,835),(755,885),(738,888)]
MACEDONIA = [(750,838),(790,838),(795,860),(755,865)]
BULGARIA = [(785,800),(885,795),(880,840),(855,845),(795,860),(770,835)]
ROMANIA = [(750,745),(775,710),(855,700),(890,770),(885,795),(790,800)]
MOLDOVA = [(855,700),(880,700),(912,745),(890,770)]
UKRAINE = [(800,620),(925,610),(985,640),(1085,670),(1085,710),(1010,740),(950,735),(915,745),(880,700),(775,705),(785,680)]
CRIMEA = [(970,760),(1000,750),(1030,765),(995,785)]
GREECE = [(755,870),(795,860),(855,848),(810,880),(775,885),(810,925),(785,920)]
PELOPONNESE = [(765,925),(800,935),(795,955),(775,950)]
ITALY = [(497,760),(530,755),(575,730),(610,755),(595,760),(605,810),(650,860),(705,885),(680,885),(680,915),(665,905),(625,860),(575,830),(530,790)]
SICILY = [(605,935),(650,932),(650,955)]
SARDINIA = [(527,868),(548,865),(545,905),(525,905)]
CORSICA = [(535,828),(545,828),(545,850),(535,850)]
CYPRUS = [(815,992),(855,995),(835,1000)]
GEORGIA = [(1140,815),(1190,825),(1235,855),(1200,865),(1150,845)]
AZERBAIJAN = [(1210,860),(1240,855),(1275,880),(1250,910),(1225,880)]
ARMENIA = [(1178,868),(1205,862),(1240,905),(1215,905)]

# plain land without outline first, then everything with a white border
LAND_BLOCKS = [
    (CROP_AS, [EURASIA, KAMCHATKA, SAKHALIN, NOVAYA, SEVERNAYA, NEW_SIBERIA, NEW_SIBERIA_2, WRANGEL]),
    (CROP_EU, [RUSSIA_WEST]),
    (CROP_AF, [MIDEAST]),
]
COUNTRIES = [
    (CROP_ALL, GOOD, [GREENLAND]),
    (CROP_NA, PROBLEMS, [ALASKA, ALASKA_PAN, USA, BELIZE, PANAMA, DOMINICAN, PUERTO_RICO]),
    (CROP_NA, OK, [CANADA, NEWFOUNDLAND, NOVA_SCOTIA, ARCTIC_1, ARCTIC_2, ARCTIC_3, ARCTIC_4, BAFFIN_1, BAFFIN_2, BAFFIN_3, BAFFIN_4, BAFFIN_5, ARCTIC_5, ARCTIC_6, ARCTIC_7, ARCTIC_8, ARCTIC_9, ELLESMERE, ARCTIC_10, ARCTIC_11, COSTA_RICA]),
    (CROP_NA, BAD, [MEXICO, BAJA, GUATEMALA, EL_SALVADOR, HAITI]),
    (CROP_NA, VERY_BAD, [HONDURAS, NICARAGUA, CUBA]),
    (CROP_SA, BAD, [COLOMBIA, ECUADOR, PERU, BOLIVIA]),
    (CROP_SA, VERY_BAD, [VENEZUELA]),
    (CROP_SA, PROBLEMS, [GUYANA, BRAZIL, ARGENTINA, CHILE, TIERRA, PARAGUAY, URUGUAY]),
    (CROP_SA, OK, [SURINAME, FR_GUIANA]),
    (CROP_SA, GOOD, [TRINIDAD]),
    (CROP_AF, BAD, [MOROCCO, W_SAHARA, ALGERIA, TUNISIA, LIBYA, MALI, GUINEA, BURKINA, TOGO, BENIN, NIGERIA, CHAD, CAMEROON, SOUTH_SUDAN, SOMALIA, KENYA, BURUNDI, TANZANIA, DR_CONGO, ANGOLA, EQ_GUINEA, MOZAMBIQUE, ZIMBABWE, LESOTHO, ESWATINI, MADAGASCAR, OMAN, KUWAIT, ISRAEL]),
    (CROP_AF, PROBLEMS, [MAURITANIA, SENEGAL, SIERRA_LEONE, LIBERIA, IVORY_COAST, GHANA, NIGER, CAR, CONGO, ZAMBIA, MALAWI, BOTSWANA, QATAR]),
    (CROP_AF, OK, [GABON, NAMIBIA, SOUTH_AFRICA]),
    (CROP_AF, VERY_BAD, [EGYPT, SUDAN, ERITREA, ETHIOPIA, UGANDA, RWANDA, SAUDI, YEMEN, UAE]),
    (CROP_AS, BAD, [MONGOLIA]),
    (CROP_AS, PROBLEMS, [S_KOREA, HONSHU, HOKKAIDO, NEPAL]),
    (CROP_AS, OK, [TAIWAN]),
    (CROP_AS, VERY_BAD, [SRI_LANKA, HAINAN]),
    (CROP_OC, PROBLEMS, [THAILAND, THAI_SOUTH, MALAY, SARAWAK, PNG, NEW_BRITAIN, SOLOMON]),
    (CROP_OC, BAD, [SUMATRA, JAVA, SUNDA_1, SUNDA_2, SUNDA_3, SUNDA_4, KALIMANTAN, SULAWESI, LUZON, MINDANAO, VISAYAS_1, VISAYAS_2, PALAWAN, ZAMBOANGA, PAPUA, SERAM, BURU, HALMAHERA]),
    (CROP_OC, OK, [AUSTRALIA, TASMANIA, NZ_SOUTH, NZ_NORTH]),
    (CROP_EU, GOOD, [NORWAY, SWEDEN, FINLAND, ESTONIA, JUTLAND, ZEALAND, SVALBARD, IRELAND, NETHERLANDS]),
    (CROP_EU, OK, [LATVIA, LITHUANIA, ICELAND, N_IRELAND, BRITAIN, BELGIUM, FRANCE, SPAIN, PORTUGAL, GERMANY, POLAND, CZECHIA, SLOVAKIA, AUSTRIA, SWITZERLAND, SLOVENIA, MOLDOVA, MONTENEGRO, MACEDONIA, CORSICA, ARMENIA]),
    (CROP_EU, PROBLEMS, [HUNGARY, CROATIA, BOSNIA, ALBANIA, BULGARIA, ROMANIA, UKRAINE, CRIMEA, GREECE, PELOPONNESE, ITALY, SICILY, SARDINIA, CYPRUS]),
    (CROP_EU, BAD, [SERBIA, KOSOVO, GEORGIA]),
    (CROP_EU, VERY_BAD, [KALININGRAD, BELARUS, TURKEY, AZERBAIJAN]),
]
GREY_ISLANDS = [(CROP_NA, JAMAICA), (CROP_OC, TIMOR_LESTE)]
WATER = [
    (CROP_NA, [HUDSON, GREAT_BEAR, GREAT_SLAVE, WINNIPEG, SUPERIOR, MICHIGAN, HURON, ST_LAWRENCE]),
    (CROP_SA, [TITICACA, MARACAIBO]),
    (CROP_AF, [VICTORIA, TANGANYIKA, LAKE_MALAWI]),
    (CROP_AS, [CASPIAN, BAIKAL, BALKHASH]),
]
BORDER_LINES = [LINE_KAZ_N, LINE_KAZ_S, LINE_KAZ_W, LINE_TURKMEN, LINE_UZBEK, LINE_KYRGYZ, LINE_TAJIK, LINE_AFGHAN, LINE_PAK_INDIA, LINE_PAK_IRAN, LINE_CHINA_INDIA, LINE_BHUTAN, LINE_CHINA_SOUTH, LINE_BANGLA_W, LINE_BANGLA_E, LINE_MYANMAR, LINE_LAOS, LINE_VIETNAM, LINE_CAMBODIA, LINE_AMUR, LINE_KOREA, LINE_IRAN_TURKEY]

SWATCH_X = [279.5, 653, 1026, 1399.5, 1772]
LABEL_SPANS = [[(129, 429)], [(508, 799)], [(922, 1130), (940, 1113)], [(1230.5, 1568), (1358, 1441)], [(1685, 1860)]]
CC_X = [1766, 1796, 1827, 1856]
CC_SIGNS = ["cc", "i", "$", "="]
SCOOP_X = [36, 33, 26, 22, 24, 47, 50, 46, 41]
SCOOP_Y = [1976, 1984, 1990, 1998, 2003, 2003, 1996, 1987, 1981]
CONE_X = [26, 47, 37]
CONE_Y = [2006, 2006, 2033]


class Stretch(pe.AbstractPathEffect):
    # real text, pulled taller from its baseline so it looks like a condensed face
    def __init__(self, factor, stroke=0):
        super().__init__()
        self.factor = factor
        self.stroke = stroke

    def draw_path(self, renderer, gc, tpath, affine, rgbFace=None):
        gc0 = renderer.new_gc()
        gc0.copy_properties(gc)
        if self.stroke:
            gc0.set_linewidth(self.stroke)
            gc0.set_foreground(rgbFace)
            gc0.set_joinstyle("miter")
        renderer.draw_path(gc0, tpath, Affine2D().scale(1, self.factor) + affine, rgbFace)
        gc0.restore()


def fit_text(ax, s, x0, x1, baseline, cap, color, family="Open Sans", weight="normal", stroke=0):
    fp = FontProperties(family=family, weight=weight)
    box = TextPath((0, 0), s, size=100, prop=fp).get_extents()
    cap100 = TextPath((0, 0), "H", size=100, prop=fp).get_extents().height
    px = 100 * (x1 - x0) / box.width
    ax.text(x0 - box.x0 * px / 100, baseline, s, fontsize=px * 0.72, family=family, weight=weight,
            color=color, ha="left", va="baseline",
            path_effects=[Stretch(cap / (cap100 * px / 100), stroke)])


def place(points, crop):
    left, top, sx, sy = crop
    arr = np.array(points, dtype=float)
    return left + arr[:, 0] / sx, top + arr[:, 1] / sy


sns.set_theme(style="white")
palette = sns.color_palette(LEVEL_COLORS)

fig = plt.figure(figsize=(20.48, 20.48), dpi=100)
ax = fig.add_axes([0, 0, 1, 1])

for crop, shapes in LAND_BLOCKS:
    for shape in shapes:
        xs, ys = place(shape, crop)
        ax.fill(xs, ys, color=palette[VERY_BAD], lw=0, zorder=1)

for crop, level, shapes in COUNTRIES:
    for shape in shapes:
        xs, ys = place(shape, crop)
        ax.fill(xs, ys, facecolor=palette[level], edgecolor="white", lw=1.0, joinstyle="round", zorder=2)

for crop, shape in GREY_ISLANDS:
    xs, ys = place(shape, crop)
    ax.fill(xs, ys, color=NO_DATA, lw=0, zorder=2)

for crop, shapes in WATER:
    for shape in shapes:
        xs, ys = place(shape, crop)
        ax.fill(xs, ys, color="white", lw=0, zorder=3)

for line in BORDER_LINES:
    xs, ys = place(line, CROP_AS)
    ax.plot(xs, ys, color="white", lw=0.9, zorder=4)

# legend swatches, same slanted box for each level
swatch = Path([(-32.5, 21), (32.5, 27), (26.5, -27), (-28.5, -27), (-32.5, 21)], closed=True)
legend_df = pd.DataFrame({"x": SWATCH_X, "y": [1722] * 5, "level": LEVELS})
sns.scatterplot(data=legend_df, x="x", y="y", hue="level", palette=LEVEL_COLORS, marker=swatch,
                s=2190, linewidth=0, legend=False, ax=ax)

for label, spans, color in zip(LEVELS, LABEL_SPANS, LEVEL_COLORS):
    for line_no, (part, (x0, x1)) in enumerate(zip(label.split("\n"), spans)):
        fit_text(ax, part, x0, x1, 1813 + 64 * line_no, 41, color, stroke=0.9)

# title block
fit_text(ax, "Pressefreiheit", 130, 1924, 376, 240, "black", family="DejaVu Sans", weight="bold", stroke=4)
fit_text(ax, "2025", 919, 1160, 525, 100, "black", stroke=2.5)

# footer
ax.fill(SCOOP_X, SCOOP_Y, color="#b3b3b3", lw=0)
ax.fill(CONE_X, CONE_Y, color="#333333", lw=0)
fit_text(ax, "K", 67, 111, 2028, 46, "#b3b3b3", family="Lato", weight="bold")
fit_text(ax, "ATAPULT", 114, 415, 2028, 46, "#333333", family="Lato", weight="bold")
fit_text(ax, "Quelle: Reporter ohne Grenzen", 1689, 2028, 1995, 17, "#333333", weight="bold")
fit_text(ax, "2025 Katapult", 1875, 2028, 2021, 17, "#333333", weight="bold")

cc_df = pd.DataFrame({"x": CC_X, "y": [2013] * 4})
sns.scatterplot(data=cc_df, x="x", y="y", s=230, facecolor="white", edgecolor="#333333", linewidth=1.4,
                legend=False, ax=ax, zorder=5)
for x, sign in zip(CC_X, CC_SIGNS):
    ax.text(x, 2014, sign, fontsize=9, weight="bold", color="#333333", ha="center", va="center", zorder=6)

ax.set_xlim(0, 2048)
ax.set_ylim(2048, 0)
ax.axis("off")

fig.savefig("out.png", dpi=100, facecolor="white")
